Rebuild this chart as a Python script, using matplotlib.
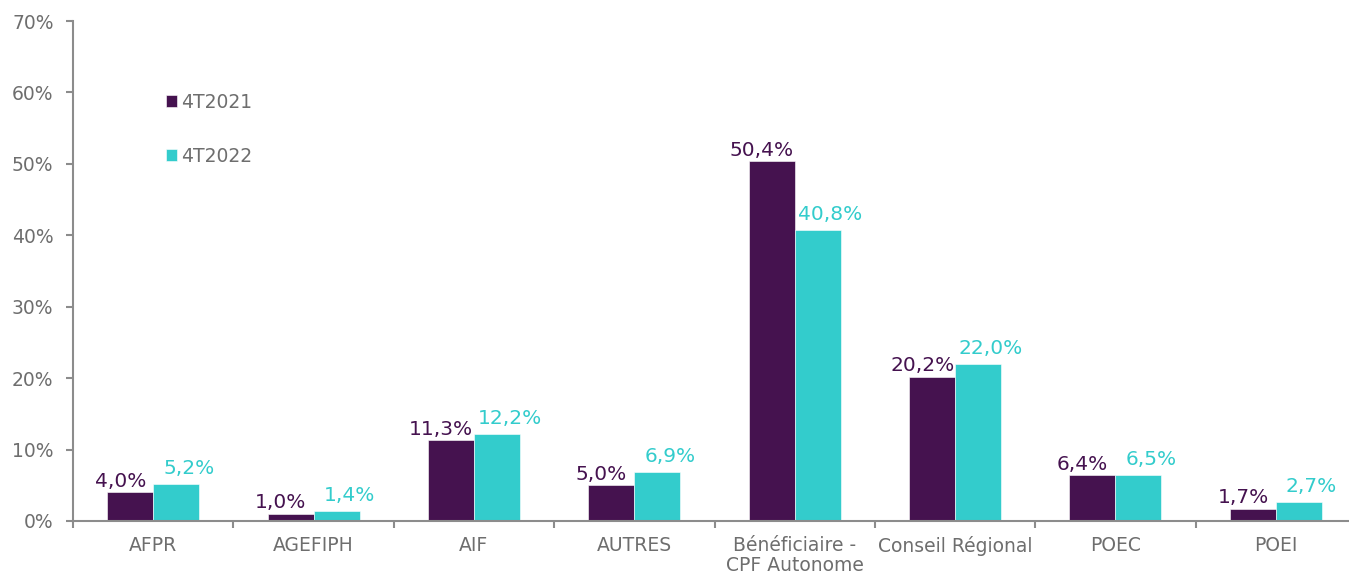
import numpy as np
import matplotlib
matplotlib.use("Agg")
import matplotlib.pyplot as plt
from matplotlib.ticker import FixedLocator, FuncFormatter

categories = ["AFPR", "AGEFIPH", "AIF", "AUTRES", "Bénéficiaire -\nCPF Autonome",
              "Conseil Régional", "POEC", "POEI"]
series_names = ["4T2021", "4T2022"]
values_2021 = [4.0, 1.0, 11.3, 5.0, 50.4, 20.2, 6.4, 1.7]
values_2022 = [5.2, 1.4, 12.2, 6.9, 40.8, 22.0, 6.5, 2.7]
yticks = [0, 10, 20, 30, 40, 50, 60, 70]

c1 = "#45124F"
c2 = "#33CCCC"
gray = "#6E6E6E"
spine = "#8C8C8C"

plt.rcParams['font.family'] = ['DejaVu Sans']

fig = plt.figure(figsize=(13.49, 5.77), dpi=100)
ax = fig.add_axes([73/1349, 1-521/577, 1283/1349, 500/577])

n = len(categories)
x = np.arange(n)
w = 0.287
b1 = ax.bar(x - w/2, values_2021, w, color=c1, label=series_names[0], edgecolor="white", linewidth=0.4)
b2 = ax.bar(x + w/2, values_2022, w, color=c2, label=series_names[1], edgecolor="white", linewidth=0.4)

fmt = lambda v: f"{v:.1f}".replace('.', ',') + '%'
for xi, v in zip(x, values_2021):
    ax.annotate(fmt(v), (xi - w/2, v), xytext=(-7, 1), textcoords="offset points",
                ha="center", va="bottom", fontsize=14.5, color=c1)
for xi, v in zip(x, values_2022):
    ax.annotate(fmt(v), (xi + w/2, v), xytext=(9, 4), textcoords="offset points",
                ha="center", va="bottom", fontsize=14.5, color=c2)

ax.set_xlim(-0.5, n - 0.5)
ax.set_ylim(0, 70)
ax.yaxis.set_major_locator(FixedLocator(yticks))
ax.yaxis.set_major_formatter(FuncFormatter(lambda v, p: f"{int(v)}%"))
ax.set_xticks(x)
ax.set_xticklabels(categories, linespacing=1.05)
ax.set_xticks(np.arange(n + 1) - 0.5, minor=True)
ax.tick_params(axis='x', which='major', length=0, pad=11, labelsize=13.5, labelcolor=gray)
ax.tick_params(axis='x', which='minor', length=5, width=1.5, color=spine, direction='out')
ax.tick_params(axis='y', which='major', length=5, width=1.5, color=spine, labelsize=13.5,
               labelcolor=gray, pad=9)

for s in ['top', 'right']:
    ax.spines[s].set_visible(False)
for s in ['left', 'bottom']:
    ax.spines[s].set_color(spine)
    ax.spines[s].set_linewidth(1.5)

leg = ax.legend(loc="upper left", bbox_to_anchor=(0.059, 0.89), frameon=False,
                fontsize=13.5, labelcolor=gray, handlelength=0.6, handleheight=0.6,
                handletextpad=0.2, labelspacing=1.85)

fig.savefig("out.png", dpi=100)
